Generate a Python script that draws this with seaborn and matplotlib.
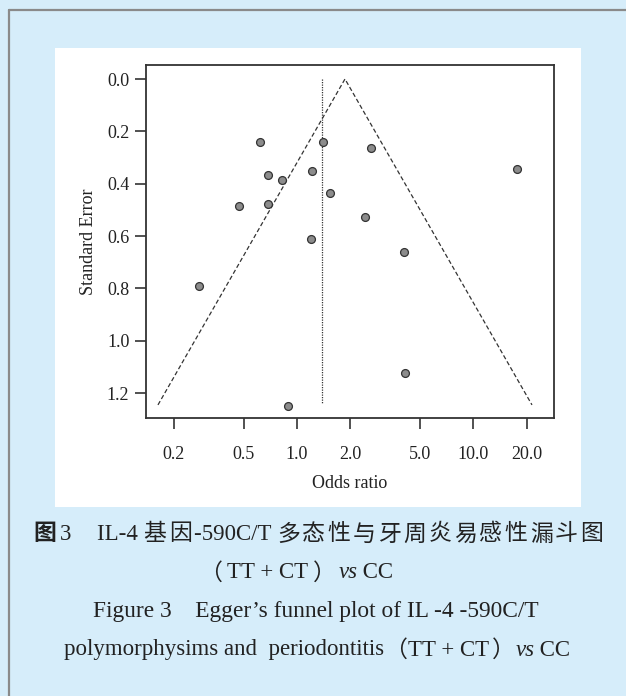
import numpy as np
import pandas as pd
import matplotlib
matplotlib.use("Agg")
import matplotlib.pyplot as plt
import seaborn as sns
from matplotlib.patches import Rectangle
from matplotlib.lines import Line2D

# ---- data ----
odds_ratio = [0.62, 0.688, 0.826, 0.469, 0.688, 1.221, 1.398, 1.545, 1.205, 0.280,
              2.61, 17.7, 2.43, 4.02, 0.885, 4.07]
std_error = [0.242, 0.368, 0.384, 0.487, 0.477, 0.353, 0.240, 0.436, 0.613, 0.789,
             0.264, 0.343, 0.526, 0.659, 1.249, 1.124]
pooled_or_line = 1.386      # dotted vertical reference line
funnel_apex_or = 1.87       # apex of the Egger funnel
funnel_se_max = 1.245
ref_se_max = 1.24
x_ticks = [0.2, 0.5, 1.0, 2.0, 5.0, 10.0, 20.0]
x_tick_labels = ["0.2", "0.5", "1.0", "2.0", "5.0", "10.0", "20.0"]
y_ticks = [0.0, 0.2, 0.4, 0.6, 0.8, 1.0, 1.2]
y_tick_labels = ["0.0", "0.2", "0.4", "0.6", "0.8", "1.0", "1.2"]

df = pd.DataFrame({"OR": odds_ratio, "SE": std_error})

sns.set_theme(style="white")
plt.rcParams['font.family'] = ['Liberation Serif', 'Noto Sans CJK SC']

W, H = 626, 696
fig = plt.figure(figsize=(W / 100, H / 100), dpi=100)
fig.patch.set_facecolor("#d6edfa")

def fx(px):
    return px / W

def fy(py):
    return 1 - py / H

# white panel
fig.patches.append(Rectangle((fx(55), fy(507)), fx(581) - fx(55), fy(48) - fy(507),
                             transform=fig.transFigure, facecolor="white",
                             edgecolor="none", zorder=-5))
# frame lines (top and left)
fig.lines.append(Line2D([fx(8.5), 1.0], [fy(9.5), fy(9.5)], transform=fig.transFigure,
                        color="#8a8a8a", lw=1.6))
fig.lines.append(Line2D([fx(8.5), fx(8.5)], [fy(9.5), 0.0], transform=fig.transFigure,
                        color="#8a8a8a", lw=1.6))

ax = fig.add_axes([fx(146), fy(418), fx(554) - fx(146), fy(65) - fy(418)])
ax.set_zorder(2)
ax.set_facecolor("white")

# funnel
lnc = np.log(funnel_apex_or)
lo = np.exp(lnc - 1.96 * funnel_se_max)
hi = np.exp(lnc + 1.96 * funnel_se_max)
ax.plot([lo, funnel_apex_or, hi], [funnel_se_max, 0.0, funnel_se_max],
        color="#333333", lw=0.9, ls=(0, (3.5, 2)))
# reference line
ax.plot([pooled_or_line, pooled_or_line], [0.0, ref_se_max],
        color="#333333", lw=0.9, ls=(0, (1, 1)))

sns.scatterplot(data=df, x="OR", y="SE", ax=ax, s=32, color="#8c8c8c",
                edgecolor="#333333", linewidth=0.9, zorder=3, legend=False)

ax.set_xscale("log")
ax.set_xlim(0.1394, 28.6)
ax.set_ylim(1.295, -0.0535)
ax.set_xticks(x_ticks)
ax.set_xticklabels(x_tick_labels)
ax.set_yticks(y_ticks)
ax.set_yticklabels(y_tick_labels)
ax.minorticks_off()
ax.tick_params(axis="both", which="major", direction="out", length=8, width=1.2,
               color="#333333", labelsize=13, labelcolor="#222222",
               bottom=True, left=True, top=False, right=False)
ax.tick_params(axis="x", pad=12)
ax.tick_params(axis="y", pad=4)
for sp in ax.spines.values():
    sp.set_color("#333333")
    sp.set_linewidth(1.3)

ax.set_xlabel("Odds ratio", fontsize=13, color="#222222", labelpad=9)
ax.set_ylabel("Standard Error", fontsize=13, color="#222222", labelpad=7)

# ---- caption, built from pieces ----
tc = "#222222"
SER = ["Liberation Serif"]
CJK = ["Noto Sans CJK SC"]
renderer = fig.canvas.get_renderer()

def line_of_pieces(pieces, ypx, x0=None, xc=None):
    """pieces: (text, props, gap_after_px); CJK strings may be letter-spaced."""
    items = []
    for s, kw, gap in pieces:
        t = fig.text(0, fy(ypx), s, ha="left", va="center", color=tc, **kw)
        items.append((t, gap))
    widths = [t.get_window_extent(renderer).width + g for t, g in items]
    total = sum(widths)
    start = x0 if x0 is not None else xc - total / 2
    x = start
    for (t, g), w in zip(items, widths):
        t.set_x(fx(x))
        x += w

def cjk_chars(s, kw, spacing):
    return [(c, kw, spacing) for c in s]

cs = 16.5   # CJK size
ls = 16.5   # latin size
ckw = dict(family=CJK, fontsize=cs)
skw = dict(family=SER, fontsize=ls)
ikw = dict(family=SER, fontsize=ls, style="italic")
line_of_pieces([("图", dict(family=CJK, fontsize=cs, fontweight="bold"), 4),
                ("3", dict(family=SER, fontsize=ls), 0)], 534, x0=33)
line_of_pieces([("IL-4 ", skw, 0)] + cjk_chars("基因", ckw, 2.4) +
               [("-590C/T ", skw, 0)] + cjk_chars("多态性与牙周炎易感性漏斗图", ckw, 2.4),
               534, x0=97)
line_of_pieces([("（", ckw, 6), ("TT + CT", skw, 4), ("）", ckw, 3),
                ("vs", ikw, 0), (" CC", skw, 0)], 573, xc=296)
line_of_pieces([("Figure 3    Egger’s funnel plot of IL -4 -590C/T",
                 dict(family=SER, fontsize=16.8), 0)], 612, xc=316)
line_of_pieces([("polymorphysims and  periodontitis", skw, 0),
                ("（", ckw, 2), ("TT + CT", skw, 2), ("）", ckw, 1),
                ("vs", ikw, 0), (" CC", skw, 0)], 650, xc=317)

fig.savefig("out.png", dpi=100, facecolor=fig.get_facecolor())
